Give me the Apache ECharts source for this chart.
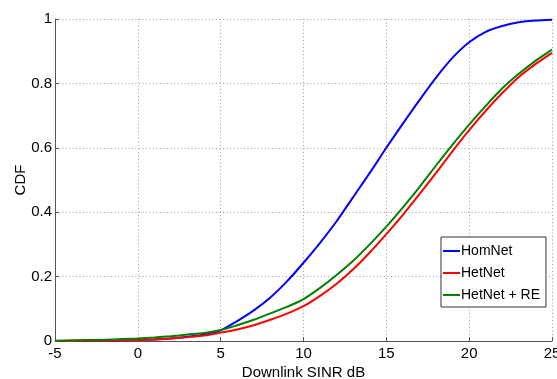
<!DOCTYPE html>
<html>
<head>
<meta charset="utf-8">
<script src="https://cdn.jsdelivr.net/npm/echarts@6/dist/echarts.min.js"></script>
<style>
html, body { margin: 0; padding: 0; background: #fff; }
#chart { width: 557px; height: 379px; }
</style>
</head>
<body>
<div id="chart"></div>
<script>
// SINR values (dB) and CDF
var sinr = [-5, -4, -3, -2, -1, 0, 1, 2, 3, 4, 5, 6, 7, 8, 9, 10, 11, 12, 13, 14, 15, 16, 17, 18, 19, 20, 21, 22, 23, 24, 25];
var homNet = [0, 0, 0.001, 0.001, 0.002, 0.003, 0.005, 0.008, 0.013, 0.02, 0.033, 0.062, 0.095, 0.135, 0.185, 0.243, 0.305, 0.372, 0.447, 0.522, 0.6, 0.675, 0.748, 0.818, 0.88, 0.928, 0.96, 0.978, 0.99, 0.995, 0.998];
var hetNet = [0, 0, 0.001, 0.001, 0.002, 0.003, 0.005, 0.008, 0.012, 0.017, 0.026, 0.036, 0.049, 0.066, 0.085, 0.108, 0.14, 0.178, 0.223, 0.275, 0.332, 0.392, 0.456, 0.522, 0.59, 0.655, 0.715, 0.77, 0.82, 0.86, 0.895];
var hetNetRE = [0.001, 0.002, 0.003, 0.004, 0.006, 0.008, 0.011, 0.015, 0.02, 0.025, 0.034, 0.049, 0.066, 0.086, 0.106, 0.13, 0.165, 0.205, 0.249, 0.3, 0.355, 0.415, 0.478, 0.545, 0.61, 0.672, 0.73, 0.785, 0.83, 0.87, 0.905];
var seriesNames = ['HomNet', 'HetNet', 'HetNet + RE'];
var seriesColors = ['#0000ff', '#ff0000', '#008000'];

function pairs(ys){
    return sinr.map(function(x, i){ return [x, ys[i]]; });
}

var chart = echarts.init(document.getElementById('chart'));
var font = 'Liberation Sans, Arial, sans-serif';
var gridLine = { show: true, lineStyle: { color: '#a0a0a0', type: [1, 2.5], width: 1 } };

var option = {
    animation: false,
    grid: { left: 55, right: 5, top: 19, bottom: 38, containLabel: false, outerBoundsMode: 'none' },
    legend: {
        orient: 'vertical',
        left: 441,
        top: 237,
        width: 113,
        data: seriesNames,
        icon: 'rect',
        itemWidth: 17,
        itemHeight: 2,
        itemGap: 8,
        padding: [7, 6, 5, 2],
        backgroundColor: '#fff',
        borderColor: '#333',
        borderWidth: 1,
        textStyle: { fontFamily: font, fontSize: 14, color: '#000', padding: [0, 0, 0, -4] }
    },
    xAxis: {
        type: 'value',
        min: -5,
        max: 25,
        interval: 5,
        name: 'Downlink SINR dB',
        nameLocation: 'middle',
        nameGap: 24,
        nameMoveOverlap: false,
        nameTextStyle: { fontFamily: font, fontSize: 15, color: '#000' },
        axisLine: { show: true, onZero: false, lineStyle: { color: '#555', width: 1 } },
        axisTick: { show: true, inside: true, length: 4, lineStyle: { color: '#555' } },
        axisLabel: { fontFamily: font, fontSize: 15, color: '#000', margin: 5 },
        splitLine: gridLine
    },
    yAxis: {
        type: 'value',
        min: 0,
        max: 1,
        interval: 0.2,
        name: 'CDF',
        nameLocation: 'middle',
        nameGap: 27,
        nameRotate: 90,
        nameMoveOverlap: false,
        nameTextStyle: { fontFamily: font, fontSize: 15, color: '#000' },
        axisLine: { show: true, onZero: false, lineStyle: { color: '#555', width: 1 } },
        axisTick: { show: true, inside: true, length: 4, lineStyle: { color: '#555' } },
        axisLabel: { fontFamily: font, fontSize: 15, color: '#000', margin: 3,
            formatter: function(v){ return String(Math.round(v * 10) / 10); } },
        splitLine: gridLine
    },
    series: [homNet, hetNet, hetNetRE].map(function(ys, i){
        return {
            name: seriesNames[i],
            type: 'line',
            data: pairs(ys),
            showSymbol: false,
            smooth: 0.3,
            lineStyle: { color: seriesColors[i], width: 2 },
            itemStyle: { color: seriesColors[i] }
        };
    })
};
chart.setOption(option, true);
</script>
</body>
</html>
